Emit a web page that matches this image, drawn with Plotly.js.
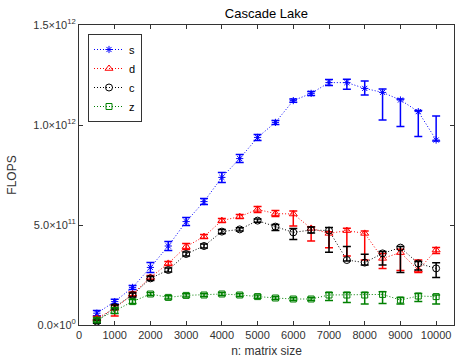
<!DOCTYPE html>
<html>
<head>
<meta charset="utf-8">
<script src="https://cdn.plot.ly/plotly-3.0.1.min.js"></script>
<style>html,body{margin:0;padding:0;background:#fff;}</style>
</head>
<body>
<div id="chart" style="width:457px;height:361px;"></div>
<script>
var n = [500,1000,1500,2000,2500,3000,3500,4000,4500,5000,5500,6000,6500,7000,7500,8000,8500,9000,9500,10000];

// values in units of 1e10 FLOPS
var sVal   = [5.9,11.7,18.8,28.8,39.5,51.7,61.7,73.8,83.2,93.8,101.3,112.2,115.8,121.2,121.2,118.3,116.3,112.5,106.7,92.5];
var sPlus  = [1.3,1.2,1.0,2.5,2.3,2.0,1.5,2.5,2.0,1.5,1.0,0.8,1.0,1.5,1.7,3.7,1.7,0.5,0.5,12.0];
var sMinus = [1.3,1.2,1.0,2.5,2.3,2.0,1.5,2.5,2.0,1.5,1.0,0.8,1.0,1.5,3.3,3.3,13.8,13.3,12.5,0.5];

var dVal   = [3.3,8.3,15.5,23.8,30.8,39.2,44.2,52.2,54.2,57.8,55.7,55.5,48.3,45.8,47.2,45.8,33.3,36.2,27.5,37.5];
var dPlus  = [1.0,1.7,1.0,1.0,1.0,1.5,1.0,1.0,1.0,1.5,1.5,1.5,0.8,0.8,1.2,1.2,2.5,1.7,5.0,1.2];
var dMinus = [1.0,3.8,1.0,1.0,1.0,1.5,1.0,1.0,1.0,1.5,1.5,6.0,6.3,7.2,12.7,13.3,5.0,9.0,1.3,1.7];

var cVal   = [1.7,9.0,15.0,23.3,27.5,35.5,39.5,46.7,47.8,52.2,49.2,46.3,47.5,47.2,32.5,31.2,35.8,38.7,30.8,28.3];
var cPlus  = [0.8,1.0,1.0,1.0,1.0,1.0,1.0,1.0,0.8,0.8,1.0,2.0,1.5,1.5,6.7,4.2,1.0,0.5,1.0,2.8];
var cMinus = [0.8,1.0,1.0,1.0,1.0,1.0,1.0,1.0,0.8,0.8,2.0,3.5,1.5,10.8,0.5,1.2,5.8,12.5,3.3,4.5];

var zVal   = [2.5,7.2,11.7,15.5,13.8,14.8,15.0,15.5,15.0,14.2,13.5,13.0,13.0,15.0,15.0,15.0,15.3,12.5,14.5,14.2];
var zPlus  = [1.0,1.5,1.0,0.8,0.8,0.8,0.8,0.8,0.8,0.8,0.8,0.8,0.8,1.3,1.2,1.2,1.3,1.3,1.3,0.8];
var zMinus = [1.0,1.5,1.0,0.8,0.8,0.8,0.8,0.8,0.8,0.8,0.8,0.8,0.8,2.8,3.8,4.5,4.5,2.0,2.8,3.7];

var seriesNames = ['s','d','c','z'];
var yTickVals = [0, 5e11, 1e12, 1.5e12];
var yTickText = ['0.0\u00d710<sup>0</sup>','5.0\u00d710<sup>11</sup>','1.0\u00d710<sup>12</sup>','1.5\u00d710<sup>12</sup>'];
var xTickVals = [0,1000,2000,3000,4000,5000,6000,7000,8000,9000,10000];
var xTickText = ['0','1000','2000','3000','4000','5000','6000','7000','8000','9000','10000'];

function sc(a){ return a.map(function(v){ return v*1e10; }); }

function mk(name, val, plus, minus, color, symbol, size){
  return {
    x: n, y: sc(val), name: name, type: 'scatter', mode: 'lines+markers',
    line: {color: color, width: 1, dash: '1px,2px'},
    marker: {symbol: symbol, size: size, color: color, line: {color: color, width: 1}},
    error_y: {type: 'data', symmetric: false, array: sc(plus), arrayminus: sc(minus),
              color: color, thickness: 1.5, width: 4, visible: true}
  };
}

var traces = [
  mk(seriesNames[0], sVal, sPlus, sMinus, '#0000ff', 'asterisk-open', 6),
  mk(seriesNames[1], dVal, dPlus, dMinus, '#ff0000', 'triangle-up-open', 7),
  mk(seriesNames[2], cVal, cPlus, cMinus, '#000000', 'circle-open', 7),
  mk(seriesNames[3], zVal, zPlus, zMinus, '#008000', 'square-open', 6)
];

var fontFam = 'Liberation Sans, Arial, sans-serif';
var layout = {
  width: 457, height: 361,
  margin: {l: 79, r: 3, t: 25, b: 36, pad: 0},
  paper_bgcolor: '#ffffff', plot_bgcolor: '#ffffff',
  font: {family: fontFam, size: 11, color: '#222'},
  title: {text: 'Cascade Lake', x: 0.583, xanchor: 'center', y: 0.975, yanchor: 'top',
          font: {family: fontFam, size: 13, color: '#000'}},
  showlegend: true,
  legend: {x: 0.024, y: 0.97, xanchor: 'left', yanchor: 'top',
           bordercolor: '#333', borderwidth: 1, bgcolor: '#fff',
           font: {family: fontFam, size: 11, color: '#000'},
           itemwidth: 30, tracegroupgap: 0},
  xaxis: {
    range: [0, 10500], tickvals: xTickVals, ticktext: xTickText, ticks: 'inside', ticklen: 4, tickcolor: '#333',
    showline: true, linecolor: '#333', linewidth: 1, mirror: 'ticks', showgrid: false, zeroline: false,
    tickfont: {family: fontFam, size: 11, color: '#333'},
    title: {text: 'n: matrix size', font: {family: fontFam, size: 12, color: '#333'}, standoff: 6}
  },
  yaxis: {
    range: [0, 1.5e12], tickvals: yTickVals, ticktext: yTickText, ticks: 'inside', ticklen: 4, tickcolor: '#333',
    showline: true, linecolor: '#333', linewidth: 1, mirror: 'ticks', showgrid: false, zeroline: false,
    tickfont: {family: fontFam, size: 11, color: '#333'},
    title: {text: 'FLOPS', font: {family: fontFam, size: 12, color: '#333'}, standoff: 14}
  }
};

Plotly.newPlot('chart', traces, layout, {staticPlot: true, displayModeBar: false});
</script>
</body>
</html>
